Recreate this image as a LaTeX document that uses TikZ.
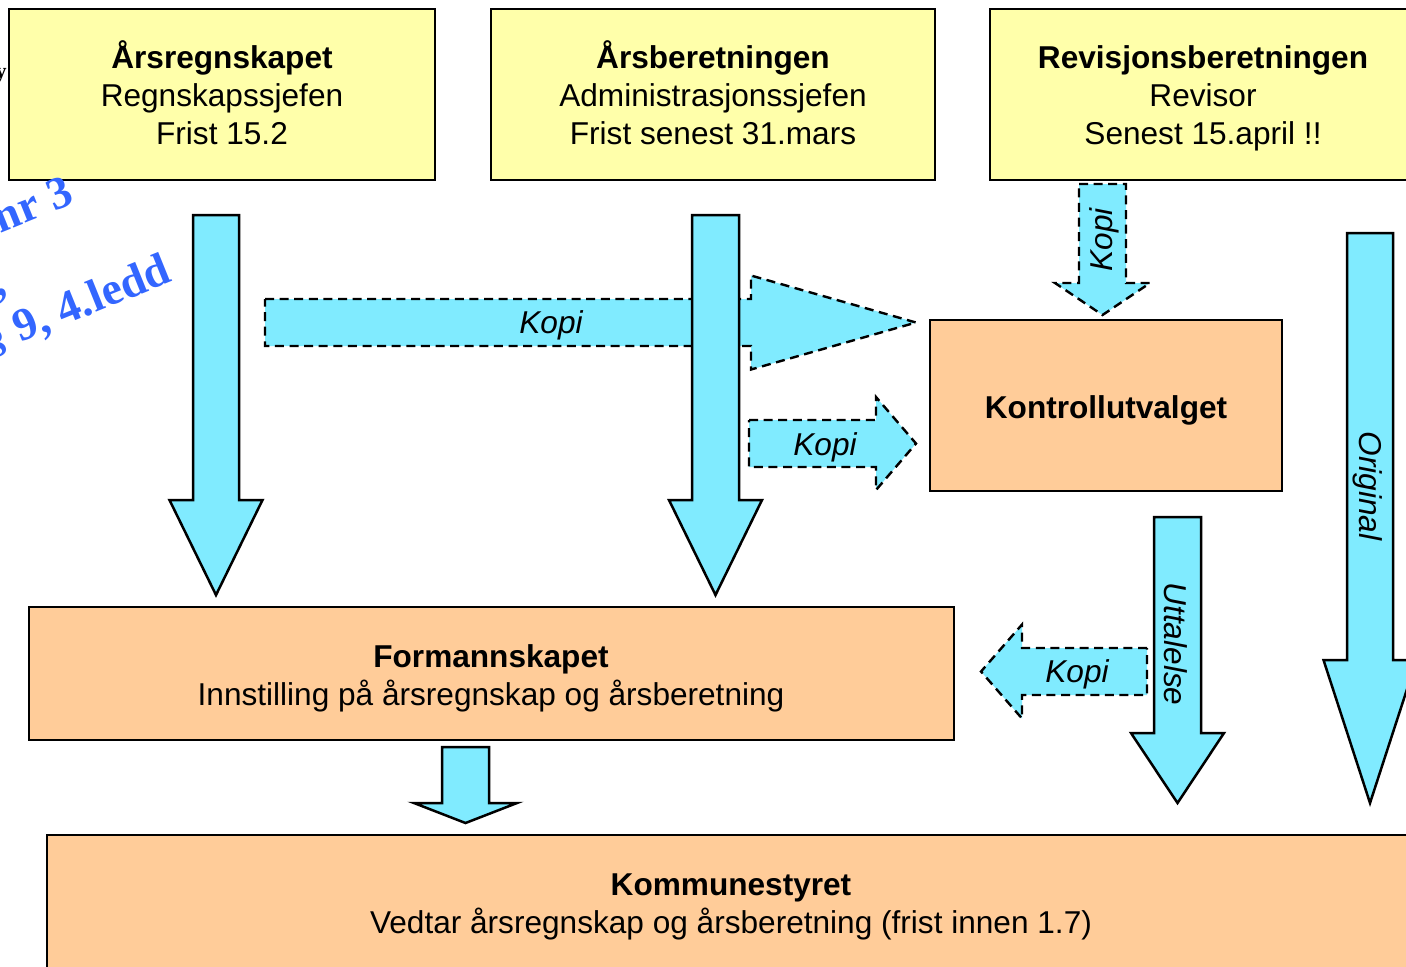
\documentclass[tikz,border=0pt]{standalone}
\usepackage{fontspec}
\setmainfont{Liberation Sans}
\newfontfamily\serifbold{Liberation Serif}
\definecolor{cyanfill}{HTML}{80EBFF}
\definecolor{yellowfill}{HTML}{FFFFAA}
\definecolor{orangefill}{HTML}{FFCC99}
\definecolor{bluetext}{HTML}{3366FF}
\newcommand\blkdown[7]{%
  \draw[#1] ({#2-#6},#3) -- ({#2+#6},#3) -- ({#2+#6},#4) -- ({#2+#7},#4) -- (#2,#5) -- ({#2-#7},#4) -- ({#2-#6},#4) -- cycle;}
\newcommand\blkright[7]{%
  \draw[#1] (#3,{#2-#6}) -- (#4,{#2-#6}) -- (#4,{#2-#7}) -- (#5,#2) -- (#4,{#2+#7}) -- (#4,{#2+#6}) -- (#3,{#2+#6}) -- cycle;}
\begin{document}
\begin{tikzpicture}[x=0.5pt,y=-0.5pt,
  every node/.style={font=\fontsize{15.8pt}{19pt}\selectfont, inner sep=0pt},
  boxy/.style={draw=black, line width=1.25pt, fill=yellowfill},
  boxo/.style={draw=black, line width=1.25pt, fill=orangefill},
  solidarrow/.style={draw=black, line width=1.25pt, fill=cyanfill, line join=miter},
  dasharrow/.style={draw=black, line width=1.2pt, fill=cyanfill, dash pattern=on 4.5pt off 2.8pt},
  lbl/.style={font=\fontsize{15.8pt}{19pt}\selectfont\itshape},
  frag/.style={font=\fontsize{23pt}{27pt}\serifbold\bfseries, text=bluetext, rotate=22, anchor=base east}]
\useasboundingbox (0,0) rectangle (1406,966);
\clip (0,0) rectangle (1406,966);
% boxes
\draw[boxy] (9,9) rectangle (435,180);
\node[align=center] (regnskap) at (222,93) {\textbf{Årsregnskapet}\\Regnskapssjefen\\Frist 15.2};
\draw[boxy] (491,9) rectangle (935,180);
\node[align=center] (beretning) at (713,93) {\textbf{Årsberetningen}\\Administrasjonssjefen\\Frist senest 31.mars};
\draw[boxy] (990,9) rectangle (1416,180);
\node[align=center] (revisjon) at (1203,98) {\textbf{Revisjonsberetningen}\\Revisor\\Senest 15.april !!};
\draw[boxo] (930,320) rectangle (1282,491);
\node (kontroll) at (1106,410) {\textbf{Kontrollutvalget}};
\draw[boxo] (29,607) rectangle (954,740);
\node[align=center] (formann) at (491,678) {\textbf{Formannskapet}\\Innstilling på årsregnskap og årsberetning};
\draw[boxo] (47,835) rectangle (1415,971);
\node[align=center] (kommune) at (731,907) {\textbf{Kommunestyret}\\Vedtar årsregnskap og årsberetning (frist innen 1.7)};
% arrows
\blkright{dasharrow}{322.5}{265}{751}{916}{23.5}{47}
\node[lbl] (kopi1) at (551,325) {Kopi};
\blkdown{solidarrow}{216}{215}{500}{595}{23}{46.5}
\blkdown{solidarrow}{715.5}{215}{500}{595}{23.5}{46.5}
\blkright{dasharrow}{443.5}{749}{876}{916}{23.5}{46.5}
\node[lbl] (kopi2) at (825,447) {Kopi};
\blkdown{dasharrow}{1102.5}{184}{283}{315}{23.5}{47.5}
\node[lbl, rotate=90] (kopi3) at (1104,240) {Kopi};
\blkdown{solidarrow}{1177.5}{517}{733}{803}{23.5}{46.5}
\node[lbl, rotate=-90] (uttal) at (1176,644) {Uttalelse};
\blkright{dasharrow}{671.5}{1147}{1022}{981}{23.5}{47}
\node[lbl] (kopi4) at (1077,674) {Kopi};
\blkdown{solidarrow}{1370}{233}{660}{803}{23}{46.5}
\node[lbl, rotate=-90] (orig) at (1368,486) {Original};
\blkdown{solidarrow}{465.5}{747}{803}{823}{23.5}{51.5}
% clipped fragments at the left edge
\node[frag] (fragA) at (76,203) {nr 3};
\node[frag] (fragB) at (9,293) {,};
\node[frag] (fragC) at (174,281) {§ 9, 4.ledd};
\node[font=\fontsize{11pt}{13pt}\serifbold\bfseries, anchor=base east] (fragD) at (7,78) {y};
\end{tikzpicture}
\end{document}
